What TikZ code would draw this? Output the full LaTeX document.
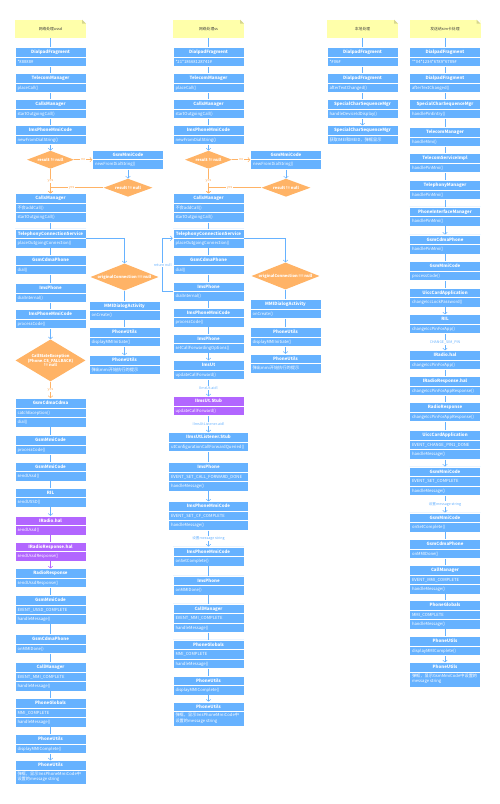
\documentclass[tikz,border=0pt]{standalone}
\usepackage{fontspec}
\setmainfont{Noto Sans CJK SC}
\usetikzlibrary{shapes.geometric, shapes.multipart, arrows.meta, positioning}
\definecolor{clsblue}{HTML}{66B2FF}
\definecolor{halpurple}{HTML}{B266FF}
\definecolor{condorange}{HTML}{FFB366}
\definecolor{noteyellow}{HTML}{FFFFAA}
\definecolor{notefold}{HTML}{D6D68F}
\newcommand{\bxs}{\rule[-3pt]{0pt}{8.9pt}}
\newcommand{\hdr}[1]{\bxs\smash{\fontsize{4.4}{5}\selectfont\bfseries #1}}
\newcommand{\rw}[1]{\bxs\smash{#1}}
\newcommand{\twolines}[2]{\rule[-6pt]{0pt}{14pt}\smash{\begin{tabular}{@{}l@{}}#1\\#2\end{tabular}}}
\tikzset{
  clsbox/.style={rectangle split, rectangle split parts=#1, rectangle split part align={center,left,left},
    fill=clsblue, draw=white, line width=0.6pt, text=white, minimum width=71pt,
    inner xsep=2.5pt, inner ysep=0pt, font=\fontsize{4.2}{5.2}\selectfont},
  clsbox/.default=2,
  widebox/.style={clsbox=#1, minimum width=80pt},
  widebox/.default=2,
  halbox/.style={clsbox=#1, fill=halpurple},
  halbox/.default=2,
  note/.style={rectangle, fill=noteyellow, minimum width=71pt, minimum height=18pt,
    font=\fontsize{3.8}{5}\selectfont, text=black!75,
    path picture={
      \fill[white] ([xshift=-4pt]path picture bounding box.north east) -- (path picture bounding box.north east) -- ([yshift=-4pt]path picture bounding box.north east) -- cycle;
      \fill[notefold] ([xshift=-4pt]path picture bounding box.north east) -- ([xshift=-4pt,yshift=-4pt]path picture bounding box.north east) -- ([yshift=-4pt]path picture bounding box.north east) -- cycle;}},
  cond/.style={diamond, fill=condorange, text=white, inner sep=0pt, align=center,
    font=\fontsize{4}{4.8}\selectfont\bfseries},
  flow/.style={draw=clsblue, line width=0.5pt, -{Straight Barb[length=2pt,width=4.6pt]}},
  yesflow/.style={flow, draw=condorange},
  halflow/.style={flow, draw=halpurple},
  flowlbl/.style={fill=white, inner sep=0.8pt, text=clsblue, font=\fontsize{3.6}{4}\selectfont},
  yeslbl/.style={flowlbl, text=condorange},
}

\begin{document}
\begin{tikzpicture}[x=1pt, y=-1pt, node distance=7pt]
  \useasboundingbox (0,0) rectangle (500,804);

  % ussd over the network
  \node[note, anchor=north] (un) at (50.5,19.5) {网络处理ussd};
  \node[clsbox, below=9.5pt of un] (u1) {\hdr{DialpadFragment}\nodepart{two}\rw{*88888\#}};
  \node[clsbox, below=6.4pt of u1] (u2) {\hdr{TelecomManager}\nodepart{two}\rw{placeCall()}};
  \node[clsbox, below=6.4pt of u2] (u3) {\hdr{CallsManager}\nodepart{two}\rw{startOutgoingCall()}};
  \node[clsbox, below=6.4pt of u3] (u4) {\hdr{ImsPhoneMmiCode}\nodepart{two}\rw{newFromDialString()}};
  \node[cond, minimum width=47pt, minimum height=18pt, aspect=2.6, below=5.5pt of u4] (uq1) {result != null};
  \node[clsbox, right=18pt of uq1] (ug1) {\hdr{GsmMmiCode}\nodepart{two}\rw{newFromDialString()}};
  \node[cond, minimum width=49pt, minimum height=18pt, aspect=2.6, below=9pt of ug1] (uq2) {result != null};
  \node[clsbox=3, below=24.5pt of uq1] (u5) {\hdr{CallsManager}\nodepart{two}\rw{不会addCall()}\nodepart{three}\rw{startOutgoingCall()}};
  \node[clsbox, below=6pt of u5] (u6) {\hdr{TelephonyConnectionService}\nodepart{two}\rw{placeOutgoingConnection()}};
  \node[clsbox, below=of u6] (u7) {\hdr{GsmCdmaPhone}\nodepart{two}\rw{dial()}};
  \node[clsbox, below=8.4pt of u7] (u8) {\hdr{ImsPhone}\nodepart{two}\rw{dialInternal()}};
  \node[clsbox, below=6.4pt of u8] (u9) {\hdr{ImsPhoneMmiCode}\nodepart{two}\rw{processCode()}};
  \node[cond, minimum width=70pt, minimum height=42pt, aspect=1.67, below=10.5pt of u9] (uq3) {CallStateException\\(Phone.CS\_FALLBACK)\\!= null};
  \node[clsbox=3, below=16.5pt of uq3] (u10) {\hdr{GsmCdmaCdma}\nodepart{two}\rw{catchException()}\nodepart{three}\rw{dial()}};
  \node[clsbox, below=8pt of u10] (u11) {\hdr{GsmMmiCode}\nodepart{two}\rw{processCode()}};
  \node[clsbox, below=of u11] (u12) {\hdr{GsmMmiCode}\nodepart{two}\rw{sendUssd()}};
  \node[clsbox, below=6.4pt of u12] (u13) {\hdr{RIL}\nodepart{two}\rw{sendUSSD()}};
  \node[halbox, below=8.4pt of u13] (u14) {\hdr{IRadio.hal}\nodepart{two}\rw{sendUssd()}};
  \node[halbox, below=6.4pt of u14] (u15) {\hdr{IRadioResponse.hal}\nodepart{two}\rw{sendUssdResponse()}};
  \node[clsbox, below=of u15] (u16) {\hdr{RadioResponse}\nodepart{two}\rw{sendUssdResponse()}};
  \node[clsbox=3, below=of u16] (u17) {\hdr{GsmMmiCode}\nodepart{two}\rw{EVENT\_USSD\_COMPLETE}\nodepart{three}\rw{handleMessage()}};
  \node[clsbox, below=10pt of u17] (u18) {\hdr{GsmCdmaPhone}\nodepart{two}\rw{onMMIDone()}};
  \node[clsbox=3, below=8.4pt of u18] (u19) {\hdr{CallManager}\nodepart{two}\rw{EVENT\_MMI\_COMPLETE}\nodepart{three}\rw{handleMessage()}};
  \node[clsbox=3, below=of u19] (u20) {\hdr{PhoneGlobals}\nodepart{two}\rw{MMI\_COMPLETE}\nodepart{three}\rw{handleMessage()}};
  \node[clsbox, below=of u20] (u21) {\hdr{PhoneUtils}\nodepart{two}\rw{displayMMIComplete()}};
  \node[clsbox, below=6.4pt of u21] (u22) {\hdr{PhoneUtils}\nodepart{two}\twolines{弹框，显示ImsPhoneMmiCode中}{设置的message string}};
  \node[cond, minimum width=68pt, minimum height=27pt, aspect=2.5] (uoc) at (124.5,277) {originalConnection == null};
  \node[clsbox, below=10pt of uoc] (um1) {\hdr{MMIDialogActivity}\nodepart{two}\rw{onCreate()}};
  \node[clsbox, below=of um1] (um2) {\hdr{PhoneUtils}\nodepart{two}\rw{displayMMIInitiate()}};
  \node[clsbox, below=8.4pt of um2] (um3) {\hdr{PhoneUtils}\nodepart{two}\rw{弹出mmi开始执行的提示}};

  \draw[flow] (un) -- (u1) (u1) -- (u2) (u2) -- (u3) (u3) -- (u4) (u4) -- (uq1);
  \draw[yesflow] (uq1) -- (ug1) node[midway, yeslbl] {no};
  \draw[flow] (ug1) -- (uq2);
  \draw[yesflow] (uq1) -- (u5) node[midway, yeslbl] {yes};
  \draw[yesflow] (uq2.west) -| (u5.north) node[pos=0.3, yeslbl] {yes};
  \draw[flow] (u5) -- (u6) (u6) -- (u7) (u7) -- (u8) (u8) -- (u9) (u9) -- (uq3);
  \draw[flow] (u6.east) -| (uoc.north);
  \draw[flow] (uoc) -- (um1) (um1) -- (um2) (um2) -- (um3);
  \draw[yesflow] (uq3) -- (u10) node[midway, yeslbl] {yes};
  \draw[flow] (u10) -- (u11) (u11) -- (u12) (u12) -- (u13) (u13) -- (u14);
  \draw[halflow] (u14) -- (u15) (u15) -- (u16);
  \draw[flow] (u16) -- (u17) (u17) -- (u18) (u18) -- (u19) (u19) -- (u20) (u20) -- (u21) (u21) -- (u22);

  % ss over the network
  \node[note, anchor=north] (sn) at (208.5,19.5) {网络处理ss};
  \node[clsbox, below=9.5pt of sn] (s1) {\hdr{DialpadFragment}\nodepart{two}\rw{*21*18668128741\#}};
  \node[clsbox, below=6.4pt of s1] (s2) {\hdr{TelecomManager}\nodepart{two}\rw{placeCall()}};
  \node[clsbox, below=6.4pt of s2] (s3) {\hdr{CallsManager}\nodepart{two}\rw{startOutgoingCall()}};
  \node[clsbox, below=6.4pt of s3] (s4) {\hdr{ImsPhoneMmiCode}\nodepart{two}\rw{newFromDialString()}};
  \node[cond, minimum width=47pt, minimum height=18pt, aspect=2.6, below=5.5pt of s4] (sq1) {result != null};
  \node[clsbox, right=18pt of sq1] (sg1) {\hdr{GsmMmiCode}\nodepart{two}\rw{newFromDialString()}};
  \node[cond, minimum width=49pt, minimum height=18pt, aspect=2.6, below=9pt of sg1] (sq2) {result != null};
  \node[clsbox=3, below=24.5pt of sq1] (s5) {\hdr{CallsManager}\nodepart{two}\rw{不会addCall()}\nodepart{three}\rw{startOutgoingCall()}};
  \node[clsbox, below=6pt of s5] (s6) {\hdr{TelephonyConnectionService}\nodepart{two}\rw{placeOutgoingConnection()}};
  \node[clsbox, below=of s6] (s7) {\hdr{GsmCdmaPhone}\nodepart{two}\rw{dial()}};
  \node[clsbox, below=of s7] (s8) {\hdr{ImsPhone}\nodepart{two}\rw{dialInternal()}};
  \node[clsbox, below=6.4pt of s8] (s9) {\hdr{ImsPhoneMmiCode}\nodepart{two}\rw{processCode()}};
  \node[clsbox, below=6.4pt of s9] (s10) {\hdr{ImsPhone}\nodepart{two}\rw{setCallForwardingOptions()}};
  \node[clsbox, below=of s10] (s11) {\hdr{ImsUt}\nodepart{two}\rw{updateCallForward()}};
  \node[halbox, below=16.4pt of s11] (s12) {\hdr{IImsUt.Stub}\nodepart{two}\rw{updateCallForward()}};
  \node[widebox, below=16.4pt of s12] (s13) {\hdr{IImsUtListener.Stub}\nodepart{two}\rw{utConfigurationCallForwardQueried()}};
  \node[widebox=3, below=10.4pt of s13] (s14) {\hdr{ImsPhone}\nodepart{two}\rw{EVENT\_SET\_CALL\_FORWARD\_DONE}\nodepart{three}\rw{handleMessage()}};
  \node[widebox=3, below=10pt of s14] (s15) {\hdr{ImsPhoneMmiCode}\nodepart{two}\rw{EVENT\_SET\_CF\_COMPLETE}\nodepart{three}\rw{handleMessage()}};
  \node[clsbox, below=16pt of s15] (s16) {\hdr{ImsPhoneMmiCode}\nodepart{two}\rw{onSetComplete()}};
  \node[clsbox, below=9.4pt of s16] (s17) {\hdr{ImsPhone}\nodepart{two}\rw{onMMIDone()}};
  \node[clsbox=3, below=8.4pt of s17] (s18) {\hdr{CallManager}\nodepart{two}\rw{EVENT\_MMI\_COMPLETE}\nodepart{three}\rw{handleMessage()}};
  \node[clsbox=3, below=of s18] (s19) {\hdr{PhoneGlobals}\nodepart{two}\rw{MMI\_COMPLETE}\nodepart{three}\rw{handleMessage()}};
  \node[clsbox, below=of s19] (s20) {\hdr{PhoneUtils}\nodepart{two}\rw{displayMMIComplete()}};
  \node[clsbox, below=6.4pt of s20] (s21) {\hdr{PhoneUtils}\nodepart{two}\twolines{弹框，显示ImsPhoneMmiCode中}{设置的message string}};
  \node[cond, minimum width=68pt, minimum height=27pt, aspect=2.5] (soc) at (285.5,276) {originalConnection == null};
  \node[clsbox, below=9.5pt of soc] (sm1) {\hdr{MMIDialogActivity}\nodepart{two}\rw{onCreate()}};
  \node[clsbox, below=8.4pt of sm1] (sm2) {\hdr{PhoneUtils}\nodepart{two}\rw{displayMMIInitiate()}};
  \node[clsbox, below=of sm2] (sm3) {\hdr{PhoneUtils}\nodepart{two}\rw{弹出mmi开始执行的提示}};
  \coordinate[left=10pt of s8.west] (sret);

  \draw[flow] (sn) -- (s1) (s1) -- (s2) (s2) -- (s3) (s3) -- (s4) (s4) -- (sq1);
  \draw[yesflow] (sq1) -- (sg1) node[midway, yeslbl] {no};
  \draw[flow] (sg1) -- (sq2);
  \draw[yesflow] (sq1) -- (s5) node[midway, yeslbl] {yes};
  \draw[yesflow] (sq2.west) -| (s5.north) node[pos=0.3, yeslbl] {yes};
  \draw[flow] (s5) -- (s6) (s6) -- (s7) (s7) -- (s8) (s8) -- (s9) (s9) -- (s10) (s10) -- (s11);
  \draw[flow] (s8.west) -- (sret) |- (s6.west) node[pos=0.25, flowlbl] {return null};
  \draw[flow] (s6.east) -| (soc.north);
  \draw[flow] (soc) -- (sm1) (sm1) -- (sm2) (sm2) -- (sm3);
  \draw[flow] (s11) -- (s12) node[midway, flowlbl] {IImsUt.aidl};
  \draw[flow] (s12) -- (s13) node[midway, flowlbl] {IImsUtListener.aidl};
  \draw[flow] (s13) -- (s14) (s14) -- (s15);
  \draw[flow] (s15) -- (s16) node[midway, flowlbl] {设置message string};
  \draw[flow] (s16) -- (s17) (s17) -- (s18) (s18) -- (s19) (s19) -- (s20) (s20) -- (s21);

  % local handling
  \node[note, anchor=north] (ln) at (362.5,19.5) {本地处理};
  \node[clsbox, below=9.5pt of ln] (l1) {\hdr{DialpadFragment}\nodepart{two}\rw{*\#06\#}};
  \node[clsbox, below=6.4pt of l1] (l2) {\hdr{DialpadFragment}\nodepart{two}\rw{afterTextChanged()}};
  \node[clsbox, below=6.4pt of l2] (l3) {\hdr{SpecialCharSequenceMgr}\nodepart{two}\rw{handleDeviceIdDisplay()}};
  \node[clsbox, below=6.4pt of l3] (l4) {\hdr{SpecialCharSequenceMgr}\nodepart{two}\rw{获取IMEI和MEID，弹框显示}};

  \draw[flow] (ln) -- (l1) (l1) -- (l2) (l2) -- (l3) (l3) -- (l4);

  % handled by the sim card
  \node[note, anchor=north] (kn) at (445,19.5) {发送给sim卡处理};
  \node[clsbox, below=9.5pt of kn] (k1) {\hdr{DialpadFragment}\nodepart{two}\rw{**04*1234*6789*6789\#}};
  \node[clsbox, below=6.4pt of k1] (k2) {\hdr{DialpadFragment}\nodepart{two}\rw{afterTextChanged()}};
  \node[clsbox, below=6.4pt of k2] (k3) {\hdr{SpecialCharSequenceMgr}\nodepart{two}\rw{handlePinEntry()}};
  \node[clsbox, below=8.4pt of k3] (k4) {\hdr{TelecomManager}\nodepart{two}\rw{handleMmi()}};
  \node[clsbox, below=6.4pt of k4] (k5) {\hdr{TelecomServiceImpl}\nodepart{two}\rw{handlePinMmi()}};
  \node[clsbox, below=of k5] (k6) {\hdr{TelephonyManager}\nodepart{two}\rw{handlePinMmi()}};
  \node[clsbox, below=of k6] (k7) {\hdr{PhoneInterfaceManager}\nodepart{two}\rw{handlePinMmi()}};
  \node[clsbox, below=8.4pt of k7] (k8) {\hdr{GsmCdmaPhone}\nodepart{two}\rw{handlePinMmi()}};
  \node[clsbox, below=of k8] (k9) {\hdr{GsmMmiCode}\nodepart{two}\rw{processCode()}};
  \node[clsbox, below=of k9] (k10) {\hdr{UiccCardApplication}\nodepart{two}\rw{changeIccLockPassword()}};
  \node[clsbox, below=of k10] (k11) {\hdr{RIL}\nodepart{two}\rw{changeIccPinForApp()}};
  \node[clsbox, below=16.4pt of k11] (k12) {\hdr{IRadio.hal}\nodepart{two}\rw{changeIccPinForApp()}};
  \node[clsbox, below=6.4pt of k12] (k13) {\hdr{IRadioResponse.hal}\nodepart{two}\rw{changeIccPinForAppResponse()}};
  \node[clsbox, below=6.4pt of k13] (k14) {\hdr{RadioResponse}\nodepart{two}\rw{changeIccPinForAppResponse()}};
  \node[clsbox=3, below=8.4pt of k14] (k15) {\hdr{UiccCardApplication}\nodepart{two}\rw{EVENT\_CHANGE\_PIN1\_DONE}\nodepart{three}\rw{handleMessage()}};
  \node[clsbox=3, below=of k15] (k16) {\hdr{GsmMmiCode}\nodepart{two}\rw{EVENT\_SET\_COMPLETE}\nodepart{three}\rw{handleMessage()}};
  \node[clsbox, below=17pt of k16] (k17) {\hdr{GsmMmiCode}\nodepart{two}\rw{onSetComplete()}};
  \node[clsbox, below=of k17] (k18) {\hdr{GsmCdmaPhone}\nodepart{two}\rw{onMMIDone()}};
  \node[clsbox=3, below=6.4pt of k18] (k19) {\hdr{CallManager}\nodepart{two}\rw{EVENT\_MMI\_COMPLETE}\nodepart{three}\rw{handleMessage()}};
  \node[clsbox=3, below=6pt of k19] (k20) {\hdr{PhoneGlobals}\nodepart{two}\rw{MMI\_COMPLETE}\nodepart{three}\rw{handleMessage()}};
  \node[clsbox, below=of k20] (k21) {\hdr{PhoneUtils}\nodepart{two}\rw{displayMMIComplete()}};
  \node[clsbox, below=6.4pt of k21] (k22) {\hdr{PhoneUtils}\nodepart{two}\twolines{弹框，显示GsmMmiCode中设置的}{message string}};

  \draw[flow] (kn) -- (k1) (k1) -- (k2) (k2) -- (k3) (k3) -- (k4) (k4) -- (k5) (k5) -- (k6) (k6) -- (k7) (k7) -- (k8);
  \draw[flow] (k8) -- (k9) (k9) -- (k10) (k10) -- (k11);
  \draw[flow] (k11) -- (k12) node[midway, flowlbl] {CHANGE\_SIM\_PIN};
  \draw[flow] (k12) -- (k13) (k13) -- (k14) (k14) -- (k15) (k15) -- (k16);
  \draw[flow] (k16) -- (k17) node[midway, flowlbl] {设置message string};
  \draw[flow] (k17) -- (k18) (k18) -- (k19) (k19) -- (k20) (k20) -- (k21) (k21) -- (k22);

\end{tikzpicture}
\end{document}
